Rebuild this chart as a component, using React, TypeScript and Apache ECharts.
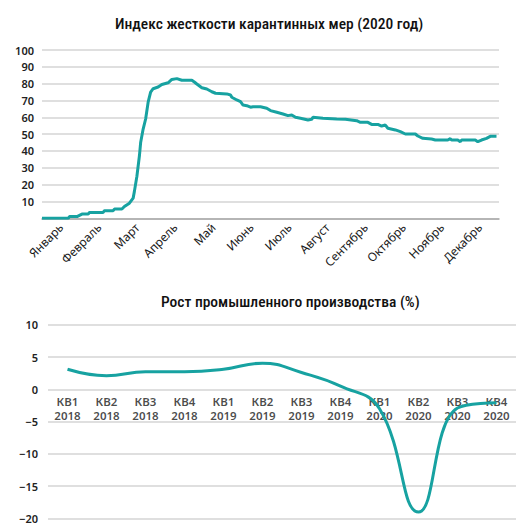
import React, { useEffect, useRef } from "react";
import * as echarts from "echarts";

const TITLE_TOP = "Индекс жесткости карантинных мер (2020 год)";
const TITLE_BOTTOM = "Рост промышленного производства (%)";

const months = ["Январь", "Февраль", "Март", "Апрель", "Май", "Июнь", "Июль", "Август", "Сентябрь", "Октябрь", "Ноябрь", "Декабрь"];

// day of year 2020 (0-based) and stringency index value
const stringencyDays = [0, 21, 22, 28, 32, 37, 38, 49, 50, 57, 58, 64, 66, 70, 73, 74, 76, 78, 79, 81, 83, 85, 87, 89, 93, 96, 101, 104, 108, 112, 120, 122, 124, 128, 132, 136, 139, 148, 151, 152, 156, 159, 161, 164, 167, 169, 175, 180, 183, 188, 193, 197, 200, 203, 207, 213, 216, 217, 225, 236, 243, 252, 255, 261, 264, 269, 272, 275, 277, 283, 287, 291, 299, 301, 305, 312, 315, 325, 327, 328, 333, 335, 336, 347, 349, 352, 356, 359, 364];
const stringencyValues = [0, 0, 1, 1, 2.5, 2.5, 3.5, 3.5, 4.5, 4.5, 5.5, 5.5, 7, 9, 12, 16, 25, 37, 45, 53, 59, 69, 75, 77, 78, 79.5, 80.5, 82.5, 83, 82, 82, 81, 79.8, 77.6, 76.8, 75.2, 74.3, 73.9, 73.3, 71.9, 70.3, 69.3, 67.3, 66.9, 66, 66.3, 66.3, 65.4, 64, 63, 62, 61, 61.4, 60, 59.4, 58.4, 58.8, 60, 59.4, 59, 58.8, 58, 57, 57, 55.8, 55.8, 54.8, 55.4, 53.5, 52.5, 51.5, 50.1, 50.1, 48.9, 47.5, 47.1, 46.5, 46.5, 47.3, 46.5, 46.5, 45.5, 46.5, 46.5, 45.5, 46.5, 47.5, 48.7, 48.7];

const quarters = ["КВ1\n2018", "КВ2\n2018", "КВ3\n2018", "КВ4\n2018", "КВ1\n2019", "КВ2\n2019", "КВ3\n2019", "КВ4\n2019", "КВ1\n2020", "КВ2\n2020", "КВ3\n2020", "КВ4\n2020"];
const productionGrowth = [3.1, 2.1, 2.7, 2.7, 3.1, 4.05, 2.6, 0.5, -3.0, -19.0, -2.9, -2.1];

const TEAL = "#17a2a1";
const TITLE_FONT = "'Roboto Condensed', 'Liberation Sans Narrow', 'Noto Sans', sans-serif";
const FONT = "'Noto Sans', 'DejaVu Sans', sans-serif";

export default function App() {
  const ref = useRef<HTMLDivElement>(null);
  useEffect(() => {
    if (!ref.current) return;
    const chart = echarts.init(ref.current, null, { renderer: "svg" });
    const topData = stringencyDays.map((d, i) => [d, stringencyValues[i]]);
    const quarterLabelPoints = quarters.map((q, i) => [i, 0]);
    chart.setOption({
      animation: false,
      textStyle: { fontFamily: FONT },
      title: [
        {
          text: TITLE_TOP,
          left: 110,
          top: 11,
          textStyle: { fontFamily: TITLE_FONT, fontSize: 15.5, fontWeight: 500, color: "#111" },
        },
        {
          text: TITLE_BOTTOM,
          left: 156,
          top: 289,
          textStyle: { fontFamily: TITLE_FONT, fontSize: 15.5, fontWeight: 500, color: "#111" },
        },
      ],
      grid: [
        { left: 42, right: 20, top: 50, height: 168.3 },
        { left: 48, right: 3, top: 324.7, height: 197 },
      ],
      xAxis: [
        { type: "value", gridIndex: 0, min: 0, max: 366, show: false, position: "bottom" },
        {
          type: "category",
          gridIndex: 0,
          position: "bottom",
          data: months,
          boundaryGap: true,
          axisTick: { show: false },
          axisLine: { show: true, lineStyle: { color: "#a8a8a8", width: 1.5 } },
          axisLabel: { rotate: 45, margin: 7, fontSize: 12, color: "#1a1a1a", fontFamily: FONT },
        },
        {
          type: "category",
          gridIndex: 1,
          data: quarters,
          boundaryGap: true,
          axisTick: { show: false },
          axisLine: { show: false },
          axisLabel: { show: false },
        },
      ],
      yAxis: [
        {
          type: "value",
          gridIndex: 0,
          min: 0,
          max: 100,
          interval: 10,
          axisLine: { show: false },
          axisTick: { show: false },
          splitLine: { lineStyle: { color: "#d4d4d4", width: 1.5 } },
          axisLabel: {
            margin: 8,
            fontSize: 11,
            fontWeight: 600,
            color: "#222",
            fontFamily: FONT,
            formatter: (v: number) => (v === 0 ? "" : String(v)),
          },
        },
        {
          type: "value",
          gridIndex: 1,
          min: -20,
          max: 10,
          interval: 5,
          axisLine: { show: false },
          axisTick: { show: false },
          splitLine: { lineStyle: { color: "#d4d4d4", width: 1.5 } },
          axisLabel: {
            margin: 10,
            fontSize: 11,
            fontWeight: 600,
            color: "#222",
            fontFamily: FONT,
            formatter: (v: number) => (v < 0 ? "\u2212" + Math.abs(v) : String(v)),
          },
        },
      ],
      series: [
        {
          type: "line",
          xAxisIndex: 0,
          yAxisIndex: 0,
          data: topData,
          showSymbol: false,
          lineStyle: { color: TEAL, width: 3 },
          itemStyle: { color: TEAL },
        },
        {
          type: "scatter",
          xAxisIndex: 2,
          yAxisIndex: 1,
          data: quarterLabelPoints,
          symbolSize: 0,
          silent: true,
          z: 1,
          label: {
            show: true,
            position: "bottom",
            distance: 5,
            fontSize: 11.5,
            lineHeight: 14,
            fontWeight: 600,
            color: "#1a1a1a",
            fontFamily: FONT,
            align: "center",
            formatter: (p: any) => quarters[p.dataIndex],
          },
        },
        {
          type: "line",
          xAxisIndex: 2,
          yAxisIndex: 1,
          data: productionGrowth,
          smooth: 0.45,
          showSymbol: false,
          z: 3,
          lineStyle: { color: TEAL, width: 3 },
          itemStyle: { color: TEAL },
        },
      ],
    });
    return () => chart.dispose();
  }, []);
  return <div ref={ref} style={{ position: "fixed", left: 0, top: 0, width: 519, height: 524, background: "#fff" }} />;
}
